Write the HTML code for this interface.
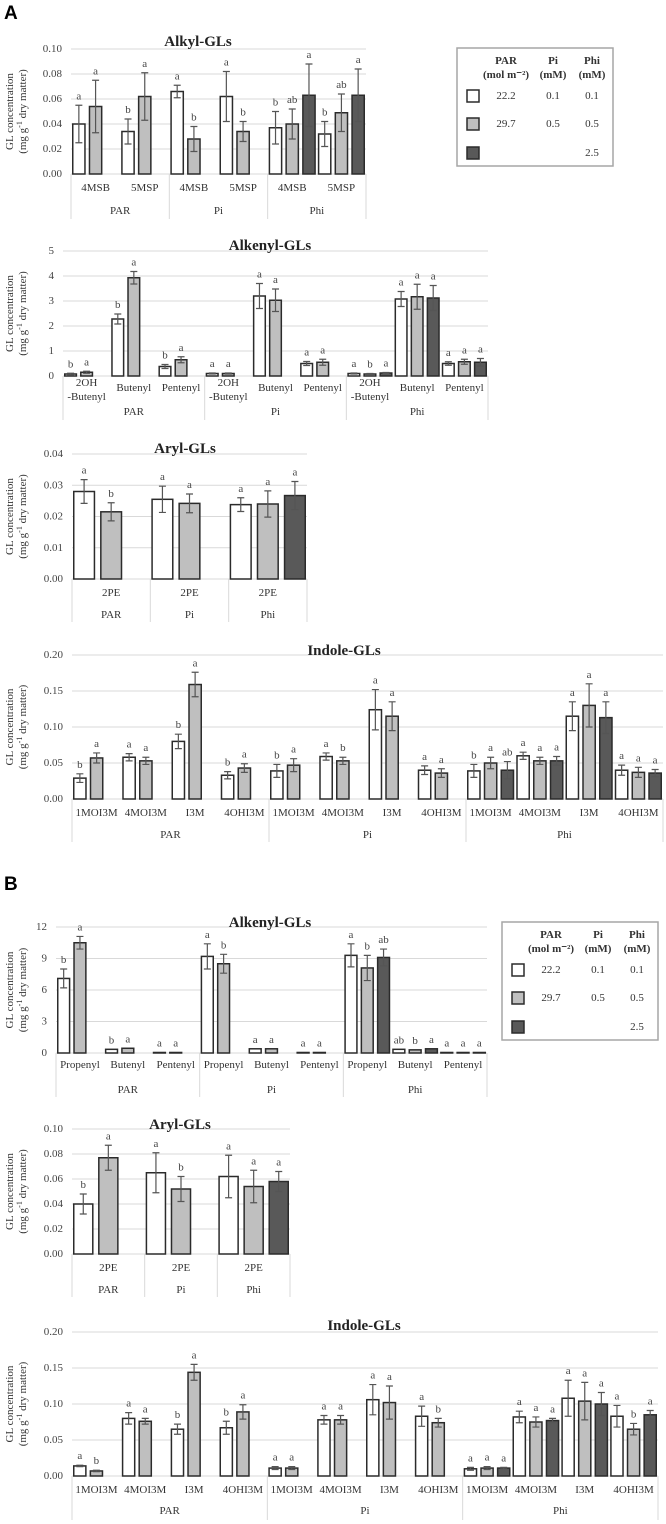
<!DOCTYPE html>
<html><head><meta charset="utf-8"><style>
html,body{margin:0;padding:0;background:#fff;}
svg{display:block;}
text{font-family:"Liberation Serif",serif;fill:#333;}
.ttl{font-weight:bold;font-size:15px;fill:#222;}
.tick{font-size:11px;fill:#444;}
.lab{font-size:11px;fill:#333;}
.sig{font-size:11px;fill:#444;}
.pl{font-family:"Liberation Sans",sans-serif;font-weight:bold;font-size:19px;fill:#000;}
</style></head><body>
<svg id="fig" width="666" height="1524" viewBox="0 0 666 1524" xmlns="http://www.w3.org/2000/svg">
<rect x="0" y="0" width="666" height="1524" fill="#fff"/>
<text class="pl" x="4" y="19">A</text>
<text class="pl" x="4" y="890">B</text>
</svg>
<script>
const groups = ['PAR','Pi','Phi'];

// A – Alkyl
const alkylCats = ['4MSB','5MSP'];
const alkylWhite = [0.040,0.034,0.066,0.062,0.037,0.032];
const alkylWhiteErr = [0.015,0.010,0.005,0.020,0.013,0.010];
const alkylWhiteSig = ['a','b','a','a','b','b'];
const alkylGrey = [0.054,0.062,0.028,0.034,0.040,0.049];
const alkylGreyErr = [0.021,0.019,0.010,0.008,0.012,0.015];
const alkylGreySig = ['a','a','b','b','ab','ab'];
const alkylDark = [null,null,null,null,0.063,0.063];
const alkylDarkErr = [0,0,0,0,0.025,0.021];
const alkylDarkSig = ['','','','','a','a'];
const alkylTicks = ['0.00','0.02','0.04','0.06','0.08','0.10'];

// A – Alkenyl
const alkenylACats = ['2OH\n-Butenyl','Butenyl','Pentenyl'];
const alkenylAWhite = [0.08,2.28,0.38, 0.10,3.20,0.50, 0.10,3.08,0.50];
const alkenylAWhiteErr = [0.03,0.2,0.08, 0.02,0.5,0.08, 0.02,0.3,0.07];
const alkenylAWhiteSig = ['b','b','b','a','a','a','a','a','a'];
const alkenylAGrey = [0.15,3.93,0.65, 0.10,3.03,0.55, 0.08,3.17,0.57];
const alkenylAGreyErr = [0.04,0.25,0.12, 0.02,0.45,0.12, 0.02,0.5,0.1];
const alkenylAGreySig = ['a','a','a','a','a','a','b','a','a'];
const alkenylADark = [null,null,null,null,null,null,0.12,3.12,0.55];
const alkenylADarkErr = [0,0,0,0,0,0,0.02,0.5,0.15];
const alkenylADarkSig = ['','','','','','','a','a','a'];
const alkenylATicks = ['0','1','2','3','4','5'];

// A – Aryl
const arylACats = ['2PE'];
const arylAWhite = [0.028,0.0255,0.0238];
const arylAWhiteErr = [0.0038,0.0042,0.0022];
const arylAWhiteSig = ['a','a','a'];
const arylAGrey = [0.0215,0.0242,0.024];
const arylAGreyErr = [0.0029,0.003,0.0042];
const arylAGreySig = ['b','a','a'];
const arylADark = [null,null,0.0267];
const arylADarkErr = [0,0,0.0045];
const arylADarkSig = ['','','a'];
const arylATicks = ['0.00','0.01','0.02','0.03','0.04'];

// A – Indole
const indoleCats = ['1MOI3M','4MOI3M','I3M','4OHI3M'];
const indoleAWhite = [0.029,0.058,0.080,0.033, 0.039,0.059,0.124,0.040, 0.039,0.060,0.115,0.040];
const indoleAWhiteErr = [0.006,0.005,0.010,0.005, 0.009,0.005,0.028,0.006, 0.009,0.005,0.020,0.007];
const indoleAWhiteSig = ['b','a','b','b','b','a','a','a','b','a','a','a'];
const indoleAGrey = [0.057,0.053,0.159,0.043, 0.047,0.053,0.115,0.036, 0.050,0.053,0.130,0.037];
const indoleAGreyErr = [0.007,0.005,0.017,0.006, 0.009,0.005,0.020,0.006, 0.008,0.005,0.030,0.007];
const indoleAGreySig = ['a','a','a','a','a','b','a','a','a','a','a','a'];
const indoleADark = [null,null,null,null,null,null,null,null,0.040,0.053,0.113,0.036];
const indoleADarkErr = [0,0,0,0,0,0,0,0,0.012,0.006,0.022,0.005];
const indoleADarkSig = ['','','','','','','','','ab','a','a','a'];
const indoleTicks = ['0.00','0.05','0.10','0.15','0.20'];

// B – Alkenyl
const alkenylBCats = ['Propenyl','Butenyl','Pentenyl'];
const alkenylBWhite = [7.1,0.35,0.05, 9.2,0.40,0.05, 9.3,0.35,0.05];
const alkenylBWhiteErr = [0.9,0,0, 1.2,0,0, 1.1,0,0];
const alkenylBWhiteSig = ['b','b','a','a','a','a','a','ab','a'];
const alkenylBGrey = [10.5,0.45,0.05, 8.5,0.40,0.05, 8.1,0.30,0.05];
const alkenylBGreyErr = [0.6,0,0, 0.9,0,0, 1.2,0,0];
const alkenylBGreySig = ['a','a','a','b','a','a','b','b','a'];
const alkenylBDark = [null,null,null,null,null,null,9.1,0.40,0.05];
const alkenylBDarkErr = [0,0,0,0,0,0,0.8,0,0];
const alkenylBDarkSig = ['','','','','','','ab','a','a'];
const alkenylBTicks = ['0','3','6','9','12'];

// B – Aryl
const arylBCats = ['2PE'];
const arylBWhite = [0.040,0.065,0.062];
const arylBWhiteErr = [0.008,0.016,0.017];
const arylBWhiteSig = ['b','a','a'];
const arylBGrey = [0.077,0.052,0.054];
const arylBGreyErr = [0.010,0.010,0.013];
const arylBGreySig = ['a','b','a'];
const arylBDark = [null,null,0.058];
const arylBDarkErr = [0,0,0.008];
const arylBDarkSig = ['','','a'];
const arylBTicks = ['0.00','0.02','0.04','0.06','0.08','0.10'];

// B – Indole
const indoleBWhite = [0.014,0.080,0.065,0.067, 0.011,0.078,0.106,0.083, 0.010,0.082,0.108,0.083];
const indoleBWhiteErr = [0.001,0.008,0.007,0.009, 0.002,0.006,0.021,0.014, 0.002,0.008,0.025,0.015];
const indoleBWhiteSig = ['a','a','b','b','a','a','a','a','a','a','a','a'];
const indoleBGrey = [0.007,0.076,0.144,0.089, 0.011,0.078,0.102,0.074, 0.011,0.075,0.104,0.065];
const indoleBGreyErr = [0.001,0.004,0.011,0.010, 0.002,0.006,0.023,0.006, 0.002,0.007,0.026,0.008];
const indoleBGreySig = ['b','a','a','a','a','a','a','b','a','a','a','b'];
const indoleBDark = [null,null,null,null,null,null,null,null,0.011,0.077,0.100,0.085];
const indoleBDarkErr = [0,0,0,0,0,0,0,0,0.001,0.003,0.016,0.006];
const indoleBDarkSig = ['','','','','','','','','a','a','a','a'];

// legend
const legendHead = [['PAR','(mol m\u207B\u00B2)'],['Pi','(mM)'],['Phi','(mM)']];
const legendRows = [['22.2','0.1','0.1'],['29.7','0.5','0.5'],['','','2.5']];

const NS = 'http://www.w3.org/2000/svg';
const svg = document.getElementById('fig');
const FILLS = ['#ffffff','#bfbfbf','#595959'];
function mk(tag, attrs, parent){
  const e = document.createElementNS(NS, tag);
  for (const k in attrs) e.setAttribute(k, attrs[k]);
  (parent||svg).appendChild(e);
  return e;
}
function txt(parent, x, y, s, cls, anchor){
  const t = mk('text', {x:x, y:y, 'class':cls, 'text-anchor':anchor||'middle', 'dominant-baseline':'central'}, parent);
  t.textContent = s;
  return t;
}

function drawPanel(cfg, cats, ticks, series){
  const g = mk('g', {});
  
  
  const yScale = v => cfg.y0 - v / cfg.max * (cfg.y0 - cfg.yTop);
  // gridlines + ticks
  ticks.forEach(t => {
    const v = parseFloat(t);
    const y = yScale(v);
    const ln = mk('line', {x1:cfg.x0, x2:cfg.x1, y1:y, y2:y, stroke:'#d9d9d9', 'stroke-width':1}, g);
    
    
    const tl = txt(g, cfg.x0 - 9, y, t, 'tick', 'end');
    
    
  });
  // title
  const tt = txt(g, cfg.tx, cfg.ty, cfg.title, 'ttl');
  
  
  // y-axis title
  const ym = (cfg.y0 + cfg.yTop) / 2;
  const yt = mk('text', {transform:'translate(10,'+ym+') rotate(-90)', 'class':'lab', 'text-anchor':'middle', 'dominant-baseline':'central'}, g);
  yt.textContent = 'GL concentration';
  
  
  const yt2 = mk('text', {transform:'translate(23,'+ym+') rotate(-90)', 'class':'lab', 'text-anchor':'middle', 'dominant-baseline':'central'}, g);
  yt2.innerHTML = '(mg g<tspan dy="-4" font-size="8">-1</tspan><tspan dy="4"> dry matter)</tspan>';
  
  
  // category axis
  const nc = cats.length;
  const gw = (cfg.x1 - cfg.x0) / groups.length;
  const sw = gw / nc;
  for (let gi = 0; gi <= groups.length; gi++){
    const x = cfg.x0 + gi * gw;
    mk('line', {x1:x, x2:x, y1:cfg.y0, y2:cfg.bottom, stroke:'#d9d9d9', 'stroke-width':1}, g);
  }
  groups.forEach((gn, gi) => {
    const gl = txt(g, cfg.x0 + gi*gw + gw/2, cfg.gy, gn, 'lab');
    
    
    cats.forEach((cn, ci) => {
      const cx = cfg.x0 + gi*gw + ci*sw + sw/2;
      const parts = cn.split('\n');
      if (parts.length > 1){
        const a = txt(g, cx, cfg.cy - 5, parts[0], 'lab');
        
        
        const b = txt(g, cx, cfg.cy + 9, parts[1], 'lab');
        
        
      } else {
        const a = txt(g, cx, cfg.cy, cn, 'lab');
        
        
      }
    });
  });
  // bars
  const edge = 1;
  const bw = (sw - 2*edge) / 3.44;
  const gap = bw * 0.22;
  series.forEach((s, si) => {
    s.vals.forEach((v, k) => {
      if (v === null || v === undefined) return;
      const gi = Math.floor(k / nc), ci = k % nc;
      const bx = cfg.x0 + gi*gw + ci*sw + edge + si*(bw + gap);
      const by = yScale(v);
      const r = mk('rect', {x:bx+0.75, y:by, width:bw-1.5, height:Math.max(cfg.y0-by,0.5), fill:FILLS[si], stroke:'#2b2b2b', 'stroke-width':1.5}, g);
      
      
      const e = s.err[k] || 0;
      const cxm = bx + bw/2;
      let top = by;
      if (e > 0){
        const yh = yScale(v + e), yl = yScale(v - e);
        const eb = mk('path', {d:'M'+cxm+' '+yh+'V'+yl+'M'+(cxm-3.5)+' '+yh+'H'+(cxm+3.5)+'M'+(cxm-3.5)+' '+yl+'H'+(cxm+3.5), stroke:'#555', 'stroke-width':1.2, fill:'none'}, g);
        
        
        top = yh;
      }
      if (s.sig[k]){
        const st = txt(g, cxm, top - 9, s.sig[k], 'sig');
        
        
      }
    });
  });
}

drawPanel({name:'alkyl-gls-chart-a', title:'Alkyl-GLs', x0:71, x1:366, y0:174, yTop:49, max:0.10, tx:198, ty:42, cy:188, gy:211, bottom:219},
  alkylCats, alkylTicks,
  [{vals:alkylWhite, err:alkylWhiteErr, sig:alkylWhiteSig},{vals:alkylGrey, err:alkylGreyErr, sig:alkylGreySig},{vals:alkylDark, err:alkylDarkErr, sig:alkylDarkSig}]);
drawPanel({name:'alkenyl-gls-chart-a', title:'Alkenyl-GLs', x0:63, x1:488, y0:376, yTop:251, max:5, tx:270, ty:246, cy:388, gy:412, bottom:420},
  alkenylACats, alkenylATicks,
  [{vals:alkenylAWhite, err:alkenylAWhiteErr, sig:alkenylAWhiteSig},{vals:alkenylAGrey, err:alkenylAGreyErr, sig:alkenylAGreySig},{vals:alkenylADark, err:alkenylADarkErr, sig:alkenylADarkSig}]);
drawPanel({name:'aryl-gls-chart-a', title:'Aryl-GLs', x0:72, x1:307, y0:579, yTop:454, max:0.04, tx:185, ty:449, cy:593, gy:615, bottom:622},
  arylACats, arylATicks,
  [{vals:arylAWhite, err:arylAWhiteErr, sig:arylAWhiteSig},{vals:arylAGrey, err:arylAGreyErr, sig:arylAGreySig},{vals:arylADark, err:arylADarkErr, sig:arylADarkSig}]);
drawPanel({name:'indole-gls-chart-a', title:'Indole-GLs', x0:72, x1:663, y0:799, yTop:655, max:0.20, tx:344, ty:651, cy:813, gy:835, bottom:842},
  indoleCats, indoleTicks,
  [{vals:indoleAWhite, err:indoleAWhiteErr, sig:indoleAWhiteSig},{vals:indoleAGrey, err:indoleAGreyErr, sig:indoleAGreySig},{vals:indoleADark, err:indoleADarkErr, sig:indoleADarkSig}]);
drawPanel({name:'alkenyl-gls-chart-b', title:'Alkenyl-GLs', x0:56, x1:487, y0:1053, yTop:927, max:12, tx:270, ty:923, cy:1065, gy:1090, bottom:1097},
  alkenylBCats, alkenylBTicks,
  [{vals:alkenylBWhite, err:alkenylBWhiteErr, sig:alkenylBWhiteSig},{vals:alkenylBGrey, err:alkenylBGreyErr, sig:alkenylBGreySig},{vals:alkenylBDark, err:alkenylBDarkErr, sig:alkenylBDarkSig}]);
drawPanel({name:'aryl-gls-chart-b', title:'Aryl-GLs', x0:72, x1:290, y0:1254, yTop:1129, max:0.10, tx:180, ty:1125, cy:1268, gy:1290, bottom:1297},
  arylBCats, arylBTicks,
  [{vals:arylBWhite, err:arylBWhiteErr, sig:arylBWhiteSig},{vals:arylBGrey, err:arylBGreyErr, sig:arylBGreySig},{vals:arylBDark, err:arylBDarkErr, sig:arylBDarkSig}]);
drawPanel({name:'indole-gls-chart-b', title:'Indole-GLs', x0:72, x1:658, y0:1476, yTop:1332, max:0.20, tx:364, ty:1326, cy:1490, gy:1511, bottom:1520},
  indoleCats, indoleTicks,
  [{vals:indoleBWhite, err:indoleBWhiteErr, sig:indoleBWhiteSig},{vals:indoleBGrey, err:indoleBGreyErr, sig:indoleBGreySig},{vals:indoleBDark, err:indoleBDarkErr, sig:indoleBDarkSig}]);

function drawLegend(name, x, y){
  const g = mk('g', {});
  
  
  mk('rect', {x:x, y:y, width:156, height:118, fill:'#fff', stroke:'#a6a6a6', 'stroke-width':1.5}, g);
  const cols = [49, 96, 135];
  legendHead.forEach((h, i) => {
    const a = txt(g, x+cols[i], y+13, h[0], 'lab');
    a.setAttribute('font-weight', 'bold');
    
    
    const b = txt(g, x+cols[i], y+27, h[1], 'lab');
    b.setAttribute('font-weight', 'bold');
    
    
  });
  const rows = [48, 76, 105];
  legendRows.forEach((r, ri) => {
    const sq = mk('rect', {x:x+10, y:y+rows[ri]-6, width:12, height:12, fill:FILLS[ri], stroke:'#2b2b2b', 'stroke-width':1.5}, g);
    
    
    r.forEach((v, ci) => {
      if (!v) return;
      const t = txt(g, x+cols[ci], y+rows[ri], v, 'lab');
      
      
    });
  });
}
drawLegend('legend-a', 457, 48);
drawLegend('legend-b', 502, 922);
</script>
</body></html>
